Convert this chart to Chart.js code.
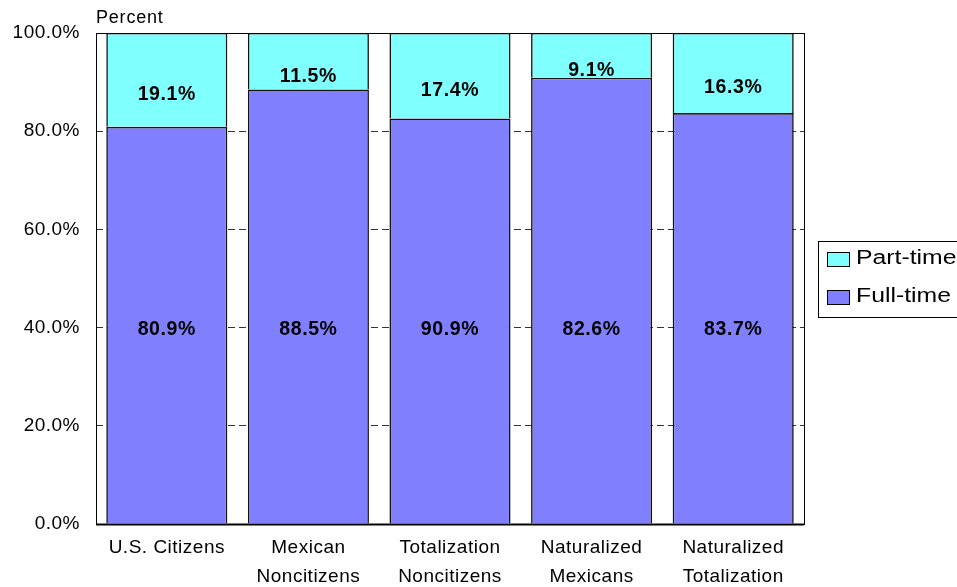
<!DOCTYPE html>
<html>
<head>
<meta charset="utf-8">
<script src="https://cdn.jsdelivr.net/npm/chart.js@4/dist/chart.umd.min.js"></script>
<style>
  html, body { margin: 0; padding: 0; background: #fff; }
  #wrap { width: 957px; height: 587px; position: relative; }
</style>
</head>
<body>
<div id="wrap"><canvas id="c" width="957" height="587"></canvas></div>
<script>
// ---- data ----
const categories = [
  ['U.S. Citizens'],
  ['Mexican', 'Noncitizens'],
  ['Totalization', 'Noncitizens'],
  ['Naturalized', 'Mexicans'],
  ['Naturalized', 'Totalization']
];
const fullTime = [80.9, 88.5, 82.6, 90.9, 83.7];
const partTime = [19.1, 11.5, 17.4, 9.1, 16.3];
// labels as printed in the reference (middle two full-time labels appear swapped)
const fullTimeLabels = ['80.9%', '88.5%', '90.9%', '82.6%', '83.7%'];
const partTimeLabels = ['19.1%', '11.5%', '17.4%', '9.1%', '16.3%'];
const yTicks = [0, 20, 40, 60, 80, 100];
const seriesNames = ['Full-time', 'Part-time'];

const FONT = "'Liberation Sans', Arial, sans-serif";
Chart.defaults.font.family = FONT;
Chart.defaults.color = '#000';

const framePlugin = {
  id: 'frame',
  beforeDraw(chart) {
    chart.ctx.letterSpacing = '0.5px';
  },
  afterDatasetsDraw(chart) {
    const ctx = chart.ctx;
    const a = chart.chartArea;
    ctx.save();
    // frame
    ctx.strokeStyle = '#000';
    ctx.lineWidth = 1;
    ctx.strokeRect(Math.round(a.left) + 0.5, Math.round(a.top) + 0.5,
                   Math.round(a.right - a.left), Math.round(a.bottom - a.top));
    ctx.lineWidth = 2;
    ctx.beginPath();
    ctx.moveTo(a.left, Math.round(a.bottom) + 0.5);
    ctx.lineTo(a.right, Math.round(a.bottom) + 0.5);
    ctx.stroke();
    // data labels
    const y = chart.scales.y;
    ctx.letterSpacing = '0.6px';
    ctx.font = "bold 19.5px " + FONT;
    ctx.fillStyle = '#000';
    ctx.textAlign = 'center';
    ctx.textBaseline = 'middle';
    const m0 = chart.getDatasetMeta(0);
    const m1 = chart.getDatasetMeta(1);
    m0.data.forEach((bar, i) => {
      ctx.fillText(fullTimeLabels[i], bar.x, y.getPixelForValue(39.6));
    });
    m1.data.forEach((bar, i) => {
      const top = y.getPixelForValue(fullTime[i] + partTime[i]);
      const bot = y.getPixelForValue(fullTime[i]);
      ctx.fillText(partTimeLabels[i], bar.x, (top + bot) / 2 + 15);
    });
    ctx.restore();
  },
  afterDraw(chart) {
    const ctx = chart.ctx;
    const a = chart.chartArea;
    ctx.save();
    ctx.letterSpacing = '0.8px';
    ctx.fillStyle = '#000';
    ctx.font = "18px " + FONT;
    ctx.textAlign = 'left';
    ctx.textBaseline = 'alphabetic';
    ctx.fillText('Percent', a.left, 23);
    // legend
    const lx = 818, ly = 241, lh = 76;
    ctx.strokeStyle = '#000';
    ctx.lineWidth = 1;
    ctx.strokeRect(lx + 0.5, ly + 0.5, 200, lh);
    const order = [1, 0];
    ctx.letterSpacing = '0px';
    ctx.font = "19.5px " + FONT;
    ctx.textBaseline = 'middle';
    order.forEach((di, k) => {
      const ds = chart.data.datasets[di];
      const sy = ly + 11 + k * 38;
      ctx.fillStyle = ds.backgroundColor;
      ctx.fillRect(827, sy, 22, 14);
      ctx.strokeRect(827.5, sy + 0.5, 22, 14);
      ctx.fillStyle = '#000';
      ctx.save();
      ctx.translate(856, sy + 7);
      ctx.scale(1.27, 1);
      ctx.fillText(ds.label, 0, 0);
      ctx.restore();
    });
    ctx.restore();
  }
};

new Chart(document.getElementById('c'), {
  type: 'bar',
  data: {
    labels: categories,
    datasets: [
      { label: seriesNames[0], data: fullTime, backgroundColor: '#8080FF', borderColor: '#111', borderWidth: 1.6 },
      { label: seriesNames[1], data: partTime, backgroundColor: '#80FFFF', borderColor: '#111', borderWidth: 1.6 }
    ]
  },
  options: {
    responsive: false,
    animation: false,
    events: [],
    layout: { padding: { left: 0, top: 33, right: 153, bottom: 0 } },
    datasets: { bar: { categoryPercentage: 1, barPercentage: 0.855 } },
    plugins: { legend: { display: false }, tooltip: { enabled: false } },
    scales: {
      x: {
        stacked: true,
        grid: { display: false, drawTicks: false },
        border: { display: false },
        ticks: { font: { size: 19, lineHeight: 29 / 19 }, padding: 9, maxRotation: 0, autoSkip: false, color: '#000' },
        afterFit(s) { s.height = 63; }
      },
      y: {
        stacked: true,
        min: 0, max: 100,
        afterBuildTicks(s) { s.ticks = yTicks.map(v => ({ value: v })); },
        grid: { color: '#333', lineWidth: 1, drawTicks: false },
        border: { display: false, dash: [7, 4] },
        ticks: { font: { size: 19 }, padding: 16, color: '#000', callback: v => v.toFixed(1) + '%' },
        afterFit(s) { s.width = 96; }
      }
    }
  },
  plugins: [framePlugin]
});
</script>
</body>
</html>
